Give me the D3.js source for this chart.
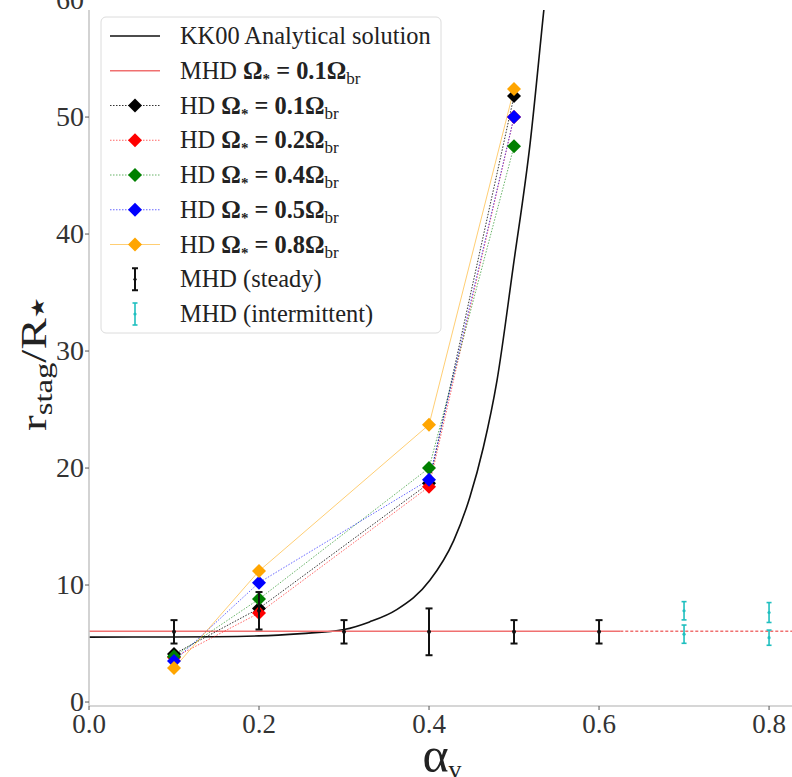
<!DOCTYPE html>
<html><head><meta charset="utf-8">
<script src="https://cdn.jsdelivr.net/npm/d3@7/dist/d3.min.js"></script>
<style>
body{margin:0;background:#fff}
svg text{font-family:"Times New Roman","Liberation Serif",Times,serif}
</style>
</head><body>
<svg id="c" width="792" height="777"></svg>
<script>
// ---------- data ----------
const hdAlpha   = [0.1, 0.2, 0.4, 0.5];
const hdOmega01 = [4.1, 8.0, 18.7, 51.8];
const hdOmega02 = [3.8, 7.6, 18.4, 50.0];
const hdOmega04 = [3.9, 8.8, 20.0, 47.5];
const hdOmega05 = [3.5, 10.2, 19.0, 50.0];
const hdOmega08 = [2.9, 11.2, 23.7, 52.4];

const kkAlpha = [0, 0.1, 0.2, 0.25, 0.3, 0.33, 0.362, 0.401, 0.429, 0.448, 0.464, 0.48, 0.499, 0.519, 0.535, 0.545];
const kkR     = [5.55, 5.56, 5.65, 5.85, 6.2, 6.85, 7.9, 10.4, 13.8, 17.5, 21.8, 27.5, 37.2, 47.8, 59.1, 66];

const mhdLineR = 6.05;
const mhdSolidEnd = 0.625;

const steadyAlpha = [0.1, 0.2, 0.3, 0.4, 0.5, 0.6];
const steadyR     = [6.0, 7.8, 6.0, 6.0, 6.0, 6.0];
const steadyErr   = [1.0, 1.6, 1.0, 2.0, 1.0, 1.0];

const intAlpha = [0.7, 0.7, 0.8, 0.8];
const intR     = [7.8, 5.8, 7.65, 5.5];
const intErr   = [0.78, 0.78, 0.85, 0.65];

const xTicks = [0, 0.2, 0.4, 0.6, 0.8];
const yTicks = [0, 10, 20, 30, 40, 50, 60];

const hdSeries = [
  {omega: "0.1", values: hdOmega01, color: "#000000", dash: "1.5,1.5", op: 0.8},
  {omega: "0.2", values: hdOmega02, color: "#ff0000", dash: "1.5,1.5", op: 0.6},
  {omega: "0.4", values: hdOmega04, color: "#008000", dash: "1.5,1.5", op: 0.6},
  {omega: "0.5", values: hdOmega05, color: "#0000ff", dash: "1.5,1.5", op: 0.6},
  {omega: "0.8", values: hdOmega08, color: "#ffa500", dash: null, op: 0.55}
];

// ---------- layout ----------
const L = 89, R = 792, T = 10, B = 706;
const x = d3.scaleLinear().domain([0, 0.827]).range([L, R]);
const y = d3.scaleLinear().domain([-0.34, 59.15]).range([B, T]);

const svg = d3.select("#c");
svg.append("defs").append("clipPath").attr("id","clip")
  .append("rect").attr("x",L).attr("y",T).attr("width",R-L).attr("height",B-T);

const plot = svg.append("g").attr("clip-path","url(#clip)");

// KK00 curve
plot.append("path")
  .datum(kkAlpha.map((a,i)=>[a,kkR[i]]))
  .attr("d", d3.line().x(d=>x(d[0])).y(d=>y(d[1])).curve(d3.curveMonotoneX))
  .attr("fill","none").attr("stroke","#111").attr("stroke-width",1.6);

// MHD red line
plot.append("line").attr("x1",x(0)).attr("x2",x(mhdSolidEnd))
  .attr("y1",y(mhdLineR)).attr("y2",y(mhdLineR))
  .attr("stroke","#f07070").attr("stroke-width",1.6);
plot.append("line").attr("x1",x(mhdSolidEnd)).attr("x2",x(0.827))
  .attr("y1",y(mhdLineR)).attr("y2",y(mhdLineR))
  .attr("stroke","#f07070").attr("stroke-width",1.6).attr("stroke-dasharray","3,2");

// HD series
const diamond = s => `M0,${-s}L${s},0L0,${s}L${-s},0Z`;
const line = d3.line().x(d=>x(d[0])).y(d=>y(d[1]));
hdSeries.forEach(s=>{
  const pts = hdAlpha.map((a,i)=>[a,s.values[i]]);
  plot.append("path").datum(pts).attr("d",line)
    .attr("fill","none").attr("stroke",s.color).attr("stroke-width",1)
    .attr("stroke-opacity",s.op)
    .attr("stroke-dasharray",s.dash);
});
hdSeries.forEach(s=>{
  plot.selectAll(null).data(hdAlpha.map((a,i)=>[a,s.values[i]])).join("path")
    .attr("transform",d=>`translate(${x(d[0])},${y(d[1])})`)
    .attr("d",diamond(7)).attr("fill",s.color);
});

// error bars
function errorbars(g, xs, ys, es, color, cap, sw, r){
  xs.forEach((a,i)=>{
    const cx = x(a), y1 = y(ys[i]-es[i]), y2 = y(ys[i]+es[i]);
    g.append("line").attr("x1",cx).attr("x2",cx).attr("y1",y1).attr("y2",y2)
      .attr("stroke",color).attr("stroke-width",sw);
    [y1,y2].forEach(yy=>g.append("line").attr("x1",cx-cap).attr("x2",cx+cap)
      .attr("y1",yy).attr("y2",yy).attr("stroke",color).attr("stroke-width",sw));
    g.append("circle").attr("cx",cx).attr("cy",y(ys[i])).attr("r",r).attr("fill",color);
  });
}
errorbars(plot, steadyAlpha, steadyR, steadyErr, "#111", 3.5, 2, 2);
errorbars(plot, intAlpha, intR, intErr, "#1fbfbf", 2.5, 1.6, 1.6);

// ---------- axes ----------
svg.append("line").attr("x1",L).attr("x2",L).attr("y1",T).attr("y2",B)
  .attr("stroke","#c8c8c8").attr("stroke-width",1.6);
svg.append("line").attr("x1",L).attr("x2",R).attr("y1",B).attr("y2",B)
  .attr("stroke","#c8c8c8").attr("stroke-width",1.6);

const yAxis = svg.append("g");
yTicks.forEach(t=>{
  const yy = y(t);
  if (yy >= T) yAxis.append("line").attr("x1",L-4).attr("x2",L).attr("y1",yy).attr("y2",yy)
    .attr("stroke","#555").attr("stroke-width",1);
  yAxis.append("text").attr("x",L-5).attr("y",yy).attr("dy","0.33em")
    .attr("text-anchor","end").attr("font-size",28).attr("fill","#333").text(t);
});
const xAxis = svg.append("g");
xTicks.forEach(t=>{
  const xx = x(t);
  xAxis.append("line").attr("x1",xx).attr("x2",xx).attr("y1",B).attr("y2",B+4)
    .attr("stroke","#555").attr("stroke-width",1);
  xAxis.append("text").attr("x",xx).attr("y",B+27)
    .attr("text-anchor","middle").attr("font-size",27).attr("fill","#333").text(d3.format(".1f")(t));
});

// x label
const xl = svg.append("text").attr("x",0).attr("y",0).attr("fill","#222");
xl.append("tspan").attr("font-size",50).text("α");
xl.append("tspan").attr("font-size",26).attr("dy",6).text("v");
{
  const bb = xl.node().getBBox();
  xl.attr("transform",`translate(${442-bb.width/2},772)`);
}

// y label
const yl = svg.append("text").attr("x",0).attr("y",0).attr("fill","#222");
yl.append("tspan").attr("font-size",36).text("r");
yl.append("tspan").attr("font-size",25).attr("dy",6).text("stag");
yl.append("tspan").attr("font-size",36).attr("dy",-6).text("/R");
yl.append("tspan").attr("font-size",18).attr("dy",-2).attr("font-family","DejaVu Sans").text("★");
{
  const bb = yl.node().getBBox();
  const sx = 134/bb.width;
  yl.attr("transform",`translate(46,${364 + 67}) rotate(-90) scale(${sx},1)`);
}

// ---------- legend ----------
const lg = svg.append("g");
lg.append("rect").attr("x",101).attr("y",17).attr("width",340).attr("height",316)
  .attr("rx",5).attr("fill","#fff").attr("fill-opacity",0.85)
  .attr("stroke","#dcdcdc").attr("stroke-width",1);
const rowY = i => 36 + i*34.75;
const hx1 = 110, hx2 = 160, hxc = 135, tx = 180;

function omegaLabel(t, prefix, omega){
  t.append("tspan").text(prefix + " ");
  t.append("tspan").attr("font-weight","bold").text("Ω");
  t.append("tspan").attr("font-size",15).attr("dy",5).attr("font-weight","bold").text("*");
  t.append("tspan").attr("dy",-5).attr("font-weight","bold").text(" = " + omega + "Ω");
  t.append("tspan").attr("font-size",17).attr("dy",5).text("br");
}
function legText(i){
  return lg.append("text").attr("x",tx).attr("y",rowY(i)+8).attr("font-size",24.4).attr("fill","#222");
}
// KK00
lg.append("line").attr("x1",hx1).attr("x2",hx2).attr("y1",rowY(0)).attr("y2",rowY(0))
  .attr("stroke","#111").attr("stroke-width",1.6);
legText(0).text("KK00 Analytical solution");
// MHD
lg.append("line").attr("x1",hx1).attr("x2",hx2).attr("y1",rowY(1)).attr("y2",rowY(1))
  .attr("stroke","#f07070").attr("stroke-width",1.6);
omegaLabel(legText(1), "MHD", "0.1");
// HD
hdSeries.forEach((s,k)=>{
  const i = k+2;
  lg.append("line").attr("x1",hx1).attr("x2",hx2).attr("y1",rowY(i)).attr("y2",rowY(i))
    .attr("stroke",s.color).attr("stroke-width",1).attr("stroke-opacity",s.op)
    .attr("stroke-dasharray",s.dash);
  lg.append("path").attr("transform",`translate(${hxc},${rowY(i)})`).attr("d",diamond(7)).attr("fill",s.color);
  omegaLabel(legText(i), "HD", s.omega);
});
// errorbar legend glyphs
[["#111",2,3,"MHD (steady)"],["#1fbfbf",1.6,2.5,"MHD (intermittent)"]].forEach((e,k)=>{
  const i = 7+k, cy = rowY(i);
  lg.append("line").attr("x1",hxc).attr("x2",hxc).attr("y1",cy-11).attr("y2",cy+11)
    .attr("stroke",e[0]).attr("stroke-width",e[1]);
  [cy-11, cy+11].forEach(yy=>lg.append("line").attr("x1",hxc-e[2]).attr("x2",hxc+e[2])
    .attr("y1",yy).attr("y2",yy).attr("stroke",e[0]).attr("stroke-width",e[1]));
  lg.append("circle").attr("cx",hxc).attr("cy",cy).attr("r",1.6).attr("fill",e[0]);
  legText(i).text(e[3]);
});
</script>
</body></html>
